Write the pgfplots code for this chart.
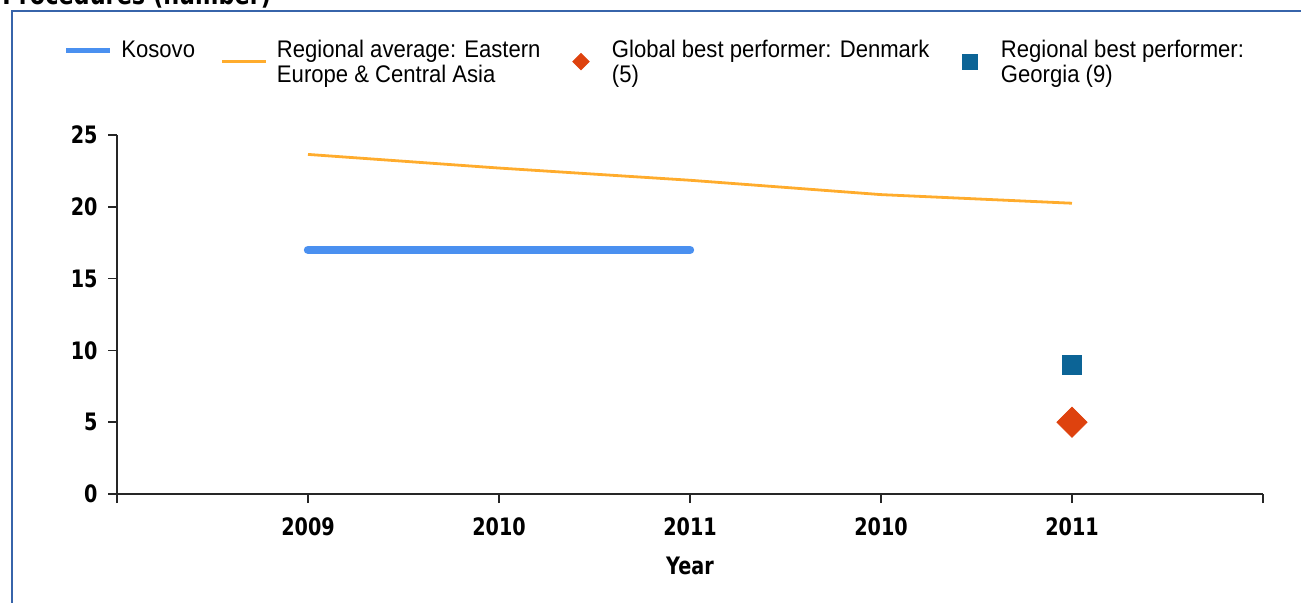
\documentclass[border=0pt]{standalone}
\usepackage{fontspec}
\setmainfont{Liberation Sans}[FakeStretch=0.92]
\newfontfamily\tickfont{DejaVu Sans}[FakeStretch=0.8]
\usepackage{pgfplots}
\pgfplotsset{compat=1.18}
\definecolor{kos}{RGB}{74,144,240}
\definecolor{reg}{RGB}{255,172,45}
\definecolor{dk}{RGB}{222,66,14}
\definecolor{geo}{RGB}{12,100,150}
\definecolor{framec}{RGB}{55,100,170}
\newcommand\tf{\tickfont\bfseries\fontsize{12}{12}\selectfont}
\pgfplotsset{
  kosleg/.style={legend image code/.code={\path[draw=none,fill=none] (0pt,-9pt) rectangle (22pt,9pt); \draw[kos, line width=2.2pt] (0pt,7pt) -- (22pt,7pt);}},
  regleg/.style={legend image code/.code={\path[draw=none,fill=none] (0pt,-9pt) rectangle (22pt,9pt); \draw[reg, line width=1.8pt] (0pt,1.5pt) -- (22pt,1.5pt);}},
  dkleg/.style={legend image code/.code={\path[draw=none,fill=none] (0pt,-9pt) rectangle (22pt,9pt); \draw[dk, fill=dk, only marks, mark=square*, mark size=2.9pt, mark options={rotate=45}] plot coordinates {(11pt,1.5pt)};}},
  geoleg/.style={legend image code/.code={\path[draw=none,fill=none] (0pt,-9pt) rectangle (22pt,9pt); \draw[geo, fill=geo, only marks, mark=square*, mark size=3.8pt] plot coordinates {(11pt,1.5pt)};}},
}
\begin{document}
\begin{tikzpicture}
\useasboundingbox (0pt,0pt) rectangle (650.5pt,-301pt);
\begin{scope}
\clip (0pt,0pt) rectangle (650.5pt,-301pt);
\node[anchor=base west, inner sep=0pt, font=\tickfont\bfseries\fontsize{14}{14}\selectfont] at (1pt,-2pt) {Procedures (number)};
\draw[framec, line width=1pt] (5.75pt,-5.5pt) rectangle (660pt,-310pt);
\end{scope}
\begin{axis}[
  at={(58.5pt,-247pt)}, anchor=south west,
  scale only axis, width=573pt, height=179.5pt,
  xmin=-1, xmax=5, ymin=0, ymax=25,
  axis x line*=bottom, axis y line*=left,
  axis line style={line width=1pt, color=black!85},
  xtick={-1,0,1,2,3,4,5}, xticklabels={,2009,2010,2011,2010,2011,},
  ytick={0,5,10,15,20,25},
  tick align=outside,
  major tick length=4.5pt,
  tick style={line width=0.75pt, color=black!85},
  ticklabel style={font=\tf},
  /pgf/number format/assume math mode=true,
  xticklabel style={anchor=north, inner sep=0pt},
  yticklabel style={anchor=east, inner sep=0pt},
  xticklabel shift=7pt, yticklabel shift=5pt,
  xlabel={Year},
  xlabel style={at={(axis description cs:0.5,0)}, anchor=north, inner sep=0pt, yshift=-31.5pt, font=\tf},
  clip=false,
  legend columns=4,
  legend style={at={(axis description cs:-0.04625,1.266)}, anchor=north west, draw=none, fill=none,
    inner sep=0pt, outer sep=0pt, column sep=4.5pt,
    font=\fontsize{12}{12.5}\selectfont,
    nodes={inner sep=0pt, text depth=}, cells={anchor=west}},
]
\addlegendimage{kosleg}
\addlegendentry{\parbox[c]{45pt}{\strut Kosovo\\\strut}}
\addlegendimage{regleg}
\addlegendentry{\parbox[c]{136.5pt}{\strut Regional average: Eastern\\\strut Europe \& Central Asia}}
\addlegendimage{dkleg}
\addlegendentry{\parbox[c]{163.5pt}{\strut Global best performer: Denmark\\\strut (5)}}
\addlegendimage{geoleg}
\addlegendentry{\parbox[c]{130pt}{\strut Regional best performer:\\\strut Georgia (9)}}
\addplot[reg, line width=1.4pt, forget plot] coordinates {(0,23.65)(1,22.7)(2,21.85)(3,20.85)(4,20.25)};
\addplot[kos, line width=4.2pt, line cap=round, forget plot] coordinates {(0,17)(1,17)(2,17)};
\addplot[only marks, mark=square*, mark size=5.3pt, mark options={rotate=45, fill=dk, draw=dk}, forget plot] coordinates {(4,5)};
\addplot[only marks, mark=square*, mark size=4.7pt, mark options={fill=geo, draw=geo}, forget plot] coordinates {(4,9)};
\end{axis}
\end{tikzpicture}
\end{document}
